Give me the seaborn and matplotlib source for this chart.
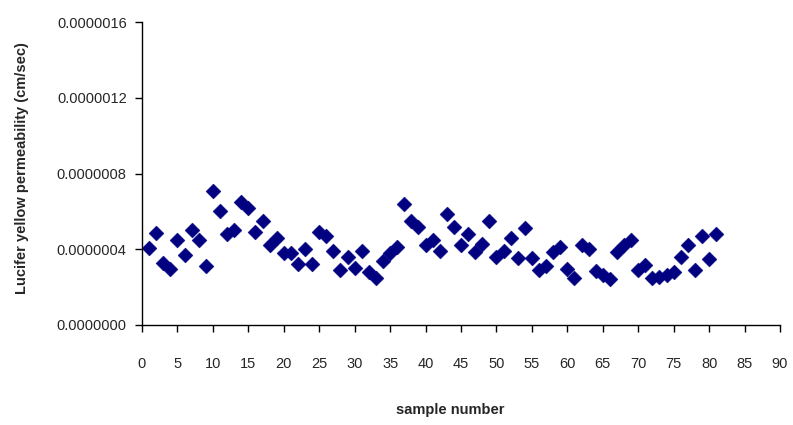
import numpy as np
import pandas as pd
import matplotlib
matplotlib.use("Agg")
import matplotlib.pyplot as plt
import seaborn as sns
from matplotlib.ticker import FixedLocator, FormatStrFormatter

sample_number = list(range(1, 82))
permeability_e7 = [
    4.05, 4.84, 3.30, 2.96, 4.50, 3.70, 5.00, 4.50, 3.10, 7.10,
    6.00, 4.80, 5.00, 6.50, 6.20, 4.90, 5.50, 4.20, 4.60, 3.80,
    3.80, 3.20, 4.00, 3.20, 4.90, 4.70, 3.90, 2.90, 3.60, 3.00,
    3.90, 2.80, 2.50, 3.40, 3.80, 4.10, 6.40, 5.50, 5.20, 4.20,
    4.50, 3.90, 5.85, 5.20, 4.20, 4.80, 3.85, 4.30, 5.50, 3.60,
    3.90, 4.60, 3.55, 5.10, 3.55, 2.90, 3.10, 3.85, 4.10, 2.95,
    2.50, 4.20, 4.00, 2.85, 2.65, 2.45, 3.85, 4.20, 4.50, 2.90,
    3.17, 2.48, 2.55, 2.64, 2.80, 3.60, 4.20, 2.90, 4.70, 3.50,
    4.80,
]
x_ticks = list(range(0, 95, 5))
y_ticks = [0.0, 4e-7, 8e-7, 1.2e-6, 1.6e-6]

df = pd.DataFrame({
    "sample": sample_number,
    "perm": [v * 1e-7 for v in permeability_e7],
})

sns.set_style("white")
plt.rcParams["font.family"] = ["Liberation Sans", "DejaVu Sans"]

fig = plt.figure(figsize=(7.93, 4.25), dpi=100)
ax = fig.add_axes([142 / 793, 1 - 325 / 425, 638 / 793, 303 / 425])

sns.scatterplot(data=df, x="sample", y="perm", marker="D", s=58,
                color="#000080", edgecolor="#000080", linewidth=0.3, ax=ax)

ax.set_xlim(0, 90)
ax.set_ylim(0, 1.6e-6)
ax.xaxis.set_major_locator(FixedLocator(x_ticks))
ax.yaxis.set_major_locator(FixedLocator(y_ticks))
ax.yaxis.set_major_formatter(FormatStrFormatter("%.7f"))

for side in ["top", "right"]:
    ax.spines[side].set_visible(False)
for side in ["left", "bottom"]:
    ax.spines[side].set_color("black")
    ax.spines[side].set_linewidth(1.0)

ax.tick_params(axis="x", direction="out", length=5, width=1, color="black",
               pad=18, labelsize=10.5, labelcolor="#262626", bottom=True)
ax.tick_params(axis="y", direction="out", length=5, width=1, color="black",
               pad=6, labelsize=10.5, labelcolor="#262626", left=True)

ax.set_xlabel("sample number", fontsize=10.5, fontweight="bold")
ax.set_ylabel("Lucifer yellow permeability (cm/sec)", fontsize=10.5,
              fontweight="bold")
ax.xaxis.set_label_coords((450 - 142) / 638, -(410 - 325) / 303)
ax.yaxis.set_label_coords(-(142 - 22) / 638, (325 - 168) / 303)
ax.xaxis.label.set_va("center")
ax.yaxis.label.set_va("center")

fig.savefig("out.png", dpi=100)
